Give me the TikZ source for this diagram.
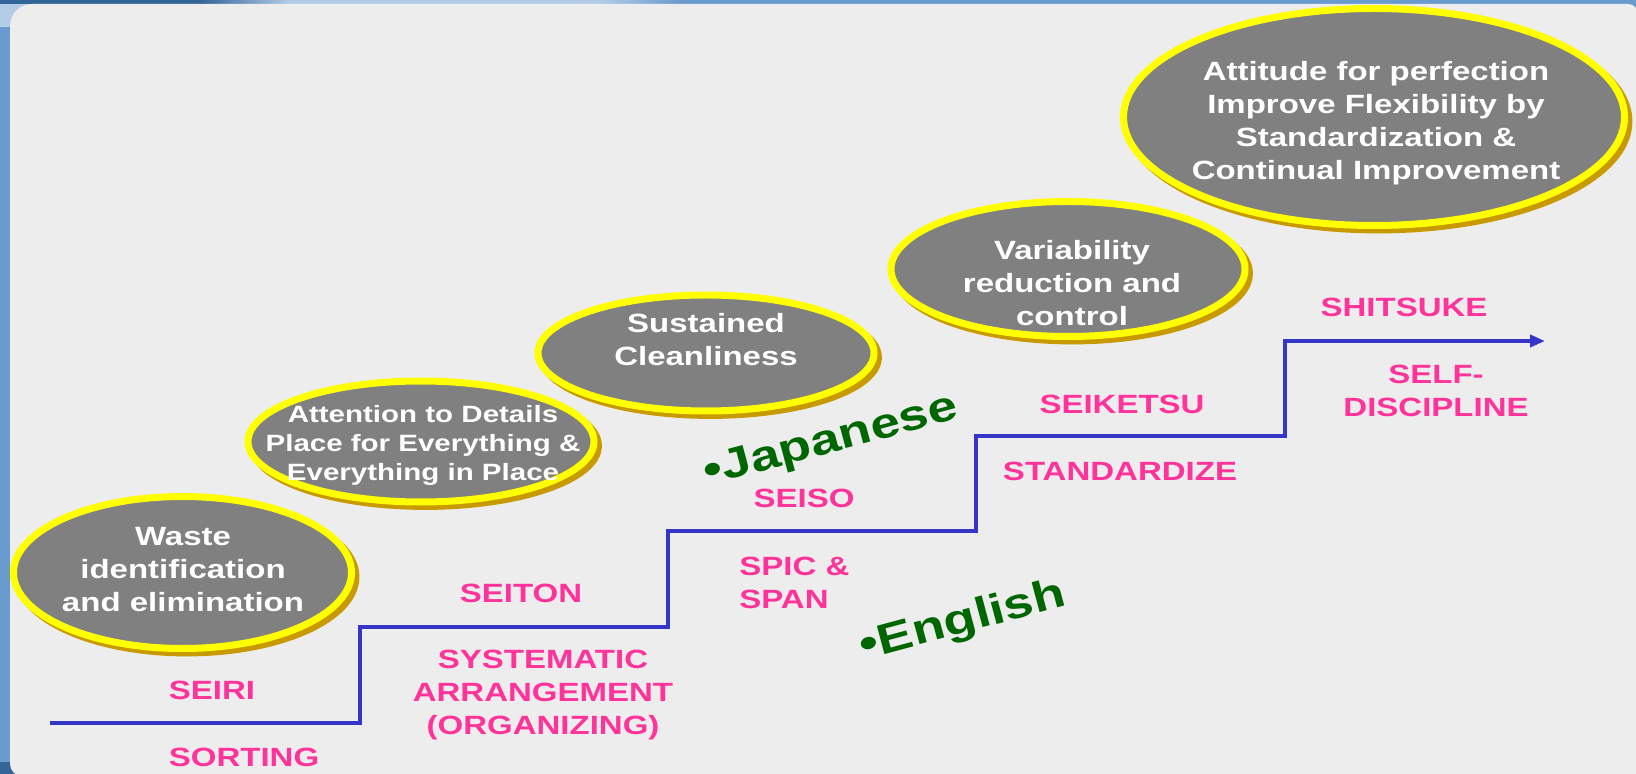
\documentclass[tikz,border=0pt]{standalone}
\usepackage{fontspec}
\usetikzlibrary{shapes.geometric,arrows.meta}
\newfontfamily\widesans[FakeStretch=1.25]{Liberation Sans}

\definecolor{panelgray}{HTML}{EDEDED}
\definecolor{frameblue}{HTML}{6A9BCE}
\definecolor{framedark}{HTML}{33649A}
\definecolor{framelight}{HTML}{B3CCE7}
\definecolor{bubblegray}{HTML}{808080}
\definecolor{rimyellow}{HTML}{FFFF00}
\definecolor{rimshade}{HTML}{C89A00}
\definecolor{stairblue}{HTML}{3535C8}
\definecolor{labelpink}{HTML}{FF3399}
\definecolor{langgreen}{HTML}{006600}

\tikzset{
  bubble/.style={ellipse, fill=bubblegray, draw=rimyellow, line width=3.5pt, inner sep=0pt,
    preaction={fill=rimshade, draw=rimshade, line width=3.5pt,
      transform canvas={shift={(2.2pt,-2.2pt)}}}},
  bubtext/.style={align=center, text=white, inner sep=0pt,
    font=\widesans\bfseries\fontsize{13.2}{16.5}\selectfont},
  steplabel/.style={align=center, text=labelpink, inner sep=0pt,
    font=\widesans\bfseries\fontsize{13.2}{16.5}\selectfont},
  langlabel/.style={text=langgreen, inner sep=0pt, rotate=15,
    font=\widesans\bfseries\fontsize{21.3}{26}\selectfont},
  stair/.style={draw=stairblue, line width=2pt}
}

\begin{document}
\begin{tikzpicture}[x=0.5pt,y=-0.5pt]
\useasboundingbox (0,0) rectangle (1636,774);

% slide frame and panel
\begin{scope}
  \clip (0,0) rectangle (1636,774);
  \fill[frameblue] (0,0) rectangle (1636,774);
  \fill[framedark] (0,0) rectangle (200,5);
  \shade[left color=framedark, right color=framelight] (200,0) rectangle (290,5);
  \fill[framelight] (290,0) rectangle (600,5);
  \shade[left color=framelight, right color=frameblue] (600,0) rectangle (680,5);
  \fill[framelight] (0,4) rectangle (34,27);
  \fill[framedark] (0,762) rectangle (22,774);
  \fill[panelgray] (10,764) -- (10,26) .. controls (10,13.85) and (19.85,4) .. (32,4)
    -- (1628,4) .. controls (1633.5,4) and (1638,8.5) .. (1638,14)
    -- (1638,776) -- (22,776) .. controls (15.4,776) and (10,770.6) .. (10,764) -- cycle;
\end{scope}

% ellipses
\node[bubble, minimum width=169pt, minimum height=76pt] (waste) at (182.5,572.5) {};
\node[bubble, minimum width=173pt, minimum height=60.5pt] (attn) at (421,441.5) {};
\node[bubble, minimum width=168pt, minimum height=58pt] (sust) at (706,353) {};
\node[bubble, minimum width=177pt, minimum height=67.5pt] (var) at (1068,269) {};
\node[bubble, minimum width=250.5pt, minimum height=108.5pt] (att) at (1374,117) {};

\node[bubtext] (waste-t) at (183,570) {Waste\\identification\\and elimination};
\node[bubtext, font=\widesans\bfseries\fontsize{11.8}{14.5}\selectfont] (attn-t) at (423,445)
  {Attention to Details\\Place for Everything \&\\Everything in Place};
\node[bubtext] (sust-t) at (706,340) {Sustained\\Cleanliness};
\node[bubtext] (var-t) at (1072,283) {Variability\\reduction and\\control};
\node[bubtext] (att-t) at (1376,123)
  {Attitude for perfection\\Improve Flexibility by\\Standardization \&\\Continual Improvement};

% staircase
\coordinate (s0) at (50,723);
\coordinate (s1) at (360,723);
\coordinate (s2) at (360,627);
\coordinate (s3) at (668,627);
\coordinate (s4) at (668,531);
\coordinate (s5) at (976,531);
\coordinate (s6) at (976,436);
\coordinate (s7) at (1285,436);
\coordinate (s8) at (1285,341);
\coordinate (s9) at (1545,341);
\draw[stair, -{Triangle[length=7.5pt,width=6pt]}]
  (s0) -- (s1) -- (s2) -- (s3) -- (s4) -- (s5) -- (s6) -- (s7) -- (s8) -- (s9);

% step labels
\node[steplabel] (seiri) at (212,690) {SEIRI};
\node[steplabel] (sorting) at (244,757) {SORTING};
\node[steplabel] (seiton) at (521,593) {SEITON};
\node[steplabel] (systematic) at (543,695) {SYSTEMATIC\\ARRANGEMENT\\(ORGANIZING)};
\node[steplabel] (seiso) at (804,498) {SEISO};
\node[steplabel, align=left, anchor=west] (spic) at (739,583) {SPIC \&\\SPAN};
\node[steplabel] (seiketsu) at (1122,404) {SEIKETSU};
\node[steplabel] (standardize) at (1120,471) {STANDARDIZE};
\node[steplabel] (shitsuke) at (1404,307) {SHITSUKE};
\node[steplabel] (selfdisc) at (1436,391) {SELF-\\DISCIPLINE};

% language tags
\node[langlabel] (jp) at (831,442) {•Japanese};
\node[langlabel] (en) at (963,622) {•English};
\end{tikzpicture}
\end{document}
